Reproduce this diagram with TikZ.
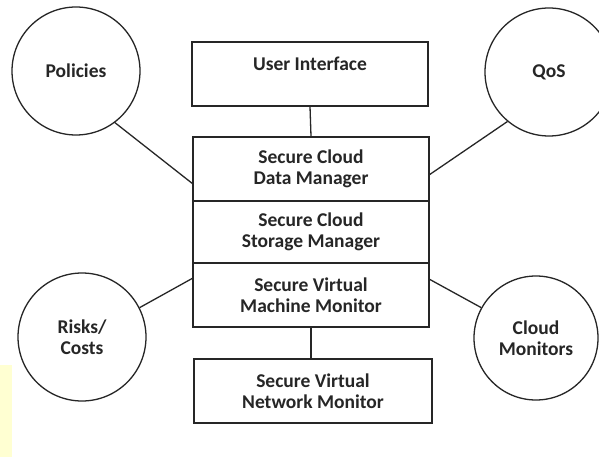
\documentclass[tikz,border=0pt]{standalone}
\usepackage{fontspec}
\setmainfont{Carlito}
\definecolor{ink}{HTML}{262626}
\definecolor{paleyellow}{HTML}{FFFFD2}
\begin{document}
\begin{tikzpicture}[x=1pt,y=-1pt,
  every node/.style={font=\fontsize{19.5}{21.5}\selectfont\bfseries, text=ink},
  layer/.style={draw=ink, line width=1.3pt, rectangle, inner sep=0pt, align=center},
  actor/.style={draw=ink, line width=1.3pt, circle, minimum size=128pt, inner sep=0pt, align=center},
  link/.style={draw=ink, line width=1.3pt}]
\useasboundingbox (0,0) rectangle (599,457);
\fill[white] (0,0) rectangle (599,457);
\clip (0,0) rectangle (599,457);
\fill[paleyellow] (0,365) rectangle (12,457);
% stack
\node[layer, minimum width=236pt, minimum height=64pt] (ui) at (310,74) {User Interface\\\mbox{}};
\node[layer, minimum width=236pt, minimum height=64pt] (dm) at (311,169) {Secure Cloud\\Data Manager};
\node[layer, minimum width=236pt, minimum height=62pt] (sm) at (311,232) {Secure Cloud\\Storage Manager};
\node[layer, minimum width=236pt, minimum height=64pt] (vmm) at (311,295) {Secure Virtual\\Machine Monitor};
\node[layer, minimum width=238pt, minimum height=64pt] (net) at (313,391) {Secure Virtual\\Network Monitor};
% circles
\node[actor] (pol) at (76,71) {Policies};
\node[actor] (qos) at (549,72) {QoS};
\node[actor] (risk) at (82,337) {Risks/\\Costs};
\node[actor, minimum size=124pt] (mon) at (536,338) {Cloud\\Monitors};
% attachment points
\coordinate (pe) at (193,184);
\coordinate (qe) at (429,175);
\coordinate (re) at (193,278);
\coordinate (me) at (429,279);
% connectors
\draw[link] (ui.south) -- (dm.north);
\draw[link] (vmm.south) -- (vmm.south |- net.north);
\draw[link] (pol.-53) -- (pe);
\draw[link] (qos.230) -- (qe);
\draw[link] (risk.27) -- (re);
\draw[link] (mon.151) -- (me);
\end{tikzpicture}
\end{document}
